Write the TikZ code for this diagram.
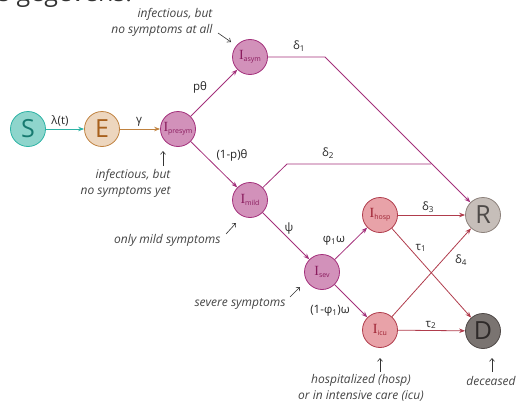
\documentclass[tikz,border=0pt]{standalone}
\usepackage{fontspec}
\setmainfont{Open Sans}
\newfontfamily\serifI{Liberation Serif}
\usetikzlibrary{arrows.meta}
\definecolor{tealF}{HTML}{8ED5CC}
\definecolor{tealD}{HTML}{2CB3A5}
\definecolor{tealT}{HTML}{177A70}
\definecolor{brnF}{HTML}{EDD6BE}
\definecolor{brnD}{HTML}{C0823F}
\definecolor{brnT}{HTML}{A8601C}
\definecolor{pinkF}{HTML}{D291BA}
\definecolor{pinkD}{HTML}{A3307B}
\definecolor{pinkT}{HTML}{8A1C5E}
\definecolor{redF}{HTML}{E8A2A8}
\definecolor{redD}{HTML}{B03C4C}
\definecolor{redT}{HTML}{9E2232}
\definecolor{gryF}{HTML}{C6BEB9}
\definecolor{gryD}{HTML}{8C817B}
\definecolor{gryT}{HTML}{4E4A48}
\definecolor{dgF}{HTML}{7A7471}
\definecolor{dgD}{HTML}{4E4846}
\definecolor{dgT}{HTML}{2E2A29}
\definecolor{annC}{HTML}{444444}
\newcommand\Isub[1]{{\serifI\fontsize{14}{14}\selectfont I}\raisebox{-2pt}{\fontsize{7}{7}\selectfont #1}}
\tikzset{
  comp/.style={circle, minimum size=35pt, inner sep=0pt, line width=0.8pt},
  big/.style={comp, font=\fontsize{25}{25}\selectfont},
  inode/.style={comp, fill=pinkF, draw=pinkD, text=pinkT},
  hnode/.style={comp, fill=redF, draw=redD, text=redT},
  tip/.style={-{Stealth[length=6pt,width=4.5pt]}},
  pinkarr/.style={tip, draw=pinkD, line width=0.8pt},
  redarr/.style={tip, draw=redD, line width=0.8pt},
  lbl/.style={font=\fontsize{11.5}{11.5}\selectfont, text=black!85},
  ann/.style={font=\fontsize{12}{16}\selectfont\itshape, text=annC},
  annarr/.style={-{Straight Barb[length=3pt,width=5pt]}, draw=black!80, line width=0.6pt},
}
\begin{document}
\begin{tikzpicture}[x=1pt,y=-1pt]
\useasboundingbox (0,0) rectangle (518,404);
\clip (0,0) rectangle (518,404);
\node[anchor=base west, inner sep=0pt, text=black!80, font=\fontsize{25}{25}\selectfont] (head) at (-2,2) {s gegevens:};
% nodes
\node[big, fill=tealF, draw=tealD, text=tealT] (S) at (28,129) {S};
\node[big, fill=brnF, draw=brnD, text=brnT] (E) at (102,129) {E};
\node[inode] (pre) at (178,129) {\Isub{presym}};
\node[inode] (asym) at (250,57) {\Isub{asym}};
\node[inode] (mild) at (250,200) {\Isub{mild}};
\node[inode] (sev) at (322,272) {\Isub{sev}};
\node[hnode] (hosp) at (380,215) {\Isub{hosp}};
\node[hnode] (icu) at (380,330) {\Isub{icu}};
\node[big, fill=gryF, draw=gryD, text=gryT] (R) at (483,215) {R};
\node[big, fill=dgF, draw=dgD, text=dgT] (D) at (483,331) {D};
% helper coordinates
\coordinate (k1) at (325,57);
\coordinate (k2) at (287,164);
\coordinate (k3) at (431,164);
% edges
\draw[tip, draw=tealD, line width=0.8pt] (S) -- (E);
\draw[tip, draw=brnD, line width=0.8pt] (E) -- (pre);
\draw[pinkarr] (pre) -- (asym);
\draw[pinkarr] (pre) -- (mild);
\draw[pinkarr] (asym) -- (k1) -- (R);
\draw[draw=pinkD, line width=0.8pt] (mild) -- (k2) -- (k3);
\draw[pinkarr] (mild) -- (sev);
\draw[pinkarr] (sev) -- (hosp);
\draw[pinkarr] (sev) -- (icu);
\draw[redarr] (hosp) -- (R);
\draw[redarr] (hosp) -- (D);
\draw[redarr] (icu) -- (R);
\draw[redarr] (icu) -- (D);
% edge labels
\node[lbl] (l1) at (60,121) {λ(t)};
\node[lbl] (l2) at (139,122) {γ};
\node[lbl] (l3) at (200,87) {pθ};
\node[lbl] (l4) at (232,155) {(1-p)θ};
\node[lbl] (l5) at (299,46) {δ\textsubscript{1}};
\node[lbl] (l6) at (328,153) {δ\textsubscript{2}};
\node[lbl] (l7) at (289,229) {ψ};
\node[lbl] (l8) at (334,241) {φ\textsubscript{1}ω};
\node[lbl] (l9) at (330,311) {(1-φ\textsubscript{1})ω};
\node[lbl] (l10) at (428,207) {δ\textsubscript{3}};
\node[lbl] (l11) at (421,248) {τ\textsubscript{1}};
\node[lbl] (l12) at (461,260) {δ\textsubscript{4}};
\node[lbl] (l13) at (431,325) {τ\textsubscript{2}};
% annotations
\node[ann, align=right, anchor=east] (a1) at (216,22) {infectious, but\\no symptoms at all};
\coordinate (a1s) at (218,33);
\coordinate (a1e) at (231,42);
\draw[annarr] (a1s) -- (a1e);
\node[ann, align=right, anchor=east] (a2) at (174,183) {infectious, but\\no symptoms yet};
\coordinate (a2s) at (163,166);
\coordinate (a2e) at (163,151);
\draw[annarr] (a2s) -- (a2e);
\node[ann, anchor=east] (a3) at (224,240) {only mild symptoms};
\coordinate (a3s) at (226,234);
\coordinate (a3e) at (236,223);
\draw[annarr] (a3s) -- (a3e);
\node[ann, anchor=east] (a4) at (289,304) {severe symptoms};
\coordinate (a4s) at (290,297);
\coordinate (a4e) at (300,287);
\draw[annarr] (a4s) -- (a4e);
\node[ann, align=center] (a5) at (361,388) {hospitalized (hosp)\\or in intensive care (icu)};
\coordinate (a5s) at (380,372);
\coordinate (a5e) at (380,358);
\draw[annarr] (a5s) -- (a5e);
\node[ann] (a6) at (491,381) {deceased};
\coordinate (a6s) at (492,372);
\coordinate (a6e) at (492,358);
\draw[annarr] (a6s) -- (a6e);
\end{tikzpicture}
\end{document}
